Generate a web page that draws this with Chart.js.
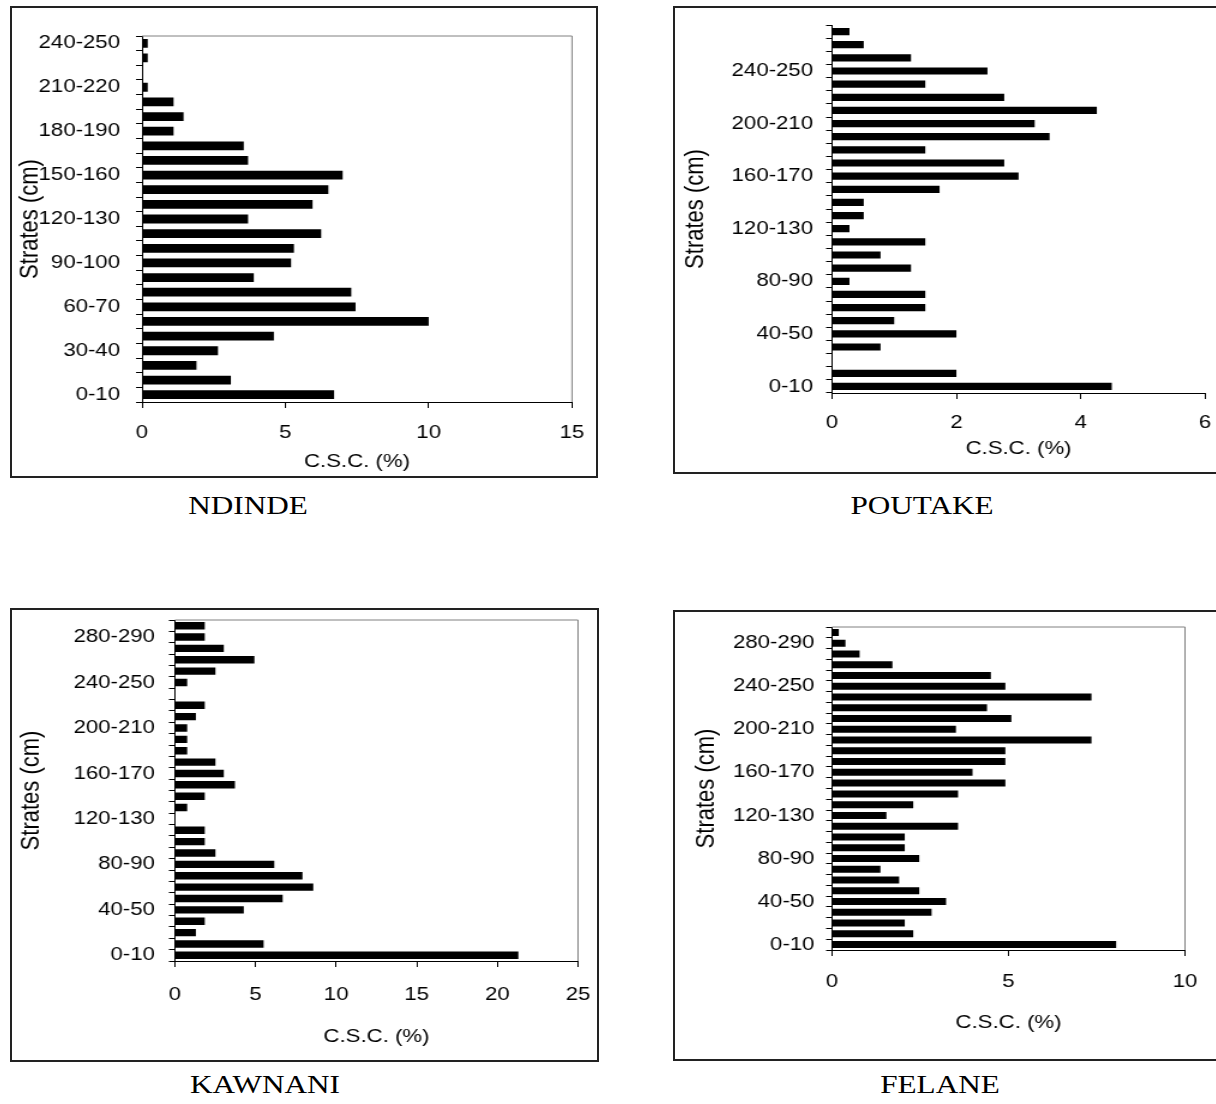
<!DOCTYPE html>
<html>
<head>
<meta charset="utf-8">
<script src="https://cdn.jsdelivr.net/npm/chart.js@4.4.0/dist/chart.umd.min.js"></script>
<style>
  body { margin: 0; background: #fff; width: 1216px; height: 1104px; position: relative; overflow: hidden; }
  .box { position: absolute; border: 2px solid #222; box-sizing: border-box; }
  canvas { position: absolute; }
  .caption { position: absolute; font-family: 'Liberation Serif', 'Times New Roman', serif; font-size: 26px; line-height: 1; white-space: nowrap; color: #000; transform: translateX(-50%) scaleX(1.2); }
</style>
</head>
<body>
<script>
// strata (cm), bottom to top
const strata = ['0-10', '10-20', '20-30', '30-40', '40-50', '50-60', '60-70', '70-80', '80-90', '90-100',
  '100-110', '110-120', '120-130', '130-140', '140-150', '150-160', '160-170', '170-180', '180-190', '190-200',
  '200-210', '210-220', '220-230', '230-240', '240-250', '250-260', '260-270', '270-280', '280-290', '290-300'];

// C.S.C. (%) per stratum
const ndindeCsc = [6.7, 3.1, 1.9, 2.65, 4.6, 10.0, 7.45, 7.3, 3.9, 5.2, 5.3, 6.25, 3.7, 5.95, 6.5, 7.0, 3.7, 3.55, 1.1, 1.45, 1.1, 0.2, 0, 0.2, 0.2];
const poutakeCsc = [4.5, 2.0, 0, 0.78, 2.0, 1.0, 1.5, 1.5, 0.28, 1.27, 0.78, 1.5, 0.28, 0.51, 0.51, 1.73, 3.0, 2.77, 1.5, 3.5, 3.26, 4.26, 2.77, 1.5, 2.5, 1.27, 0.51, 0.28];
const kawnaniCsc = [21.3, 5.5, 1.3, 1.85, 4.27, 6.68, 8.58, 7.91, 6.16, 2.51, 1.85, 1.85, 0, 0.76, 1.85, 3.72, 3.03, 2.51, 0.76, 0.76, 0.76, 1.3, 1.85, 0, 0.76, 2.51, 4.93, 3.03, 1.85, 1.85];
const felaneCsc = [8.05, 2.3, 2.06, 2.82, 3.23, 2.47, 1.9, 1.37, 2.47, 2.06, 2.06, 3.57, 1.54, 2.3, 3.57, 4.91, 3.98, 4.91, 4.91, 7.35, 3.51, 5.08, 4.39, 7.35, 4.91, 4.5, 1.71, 0.78, 0.38, 0.19];

// labelled strata on each y axis
const ndindeTicks = ['0-10', '30-40', '60-70', '90-100', '120-130', '150-160', '180-190', '210-220', '240-250'];
const poutakeTicks = ['0-10', '40-50', '80-90', '120-130', '160-170', '200-210', '240-250'];
const kawnaniTicks = ['0-10', '40-50', '80-90', '120-130', '160-170', '200-210', '240-250', '280-290'];
const felaneTicks = ['0-10', '40-50', '80-90', '120-130', '160-170', '200-210', '240-250', '280-290'];

// x axis ticks
const ndindeX = [0, 5, 10, 15];
const poutakeX = [0, 2, 4, 6];
const kawnaniX = [0, 5, 10, 15, 20, 25];
const felaneX = [0, 5, 10];

// the source picture is stretched horizontally, so draw narrow and stretch
const S = 1.2;

Chart.defaults.font.family = "'Liberation Sans', Arial, sans-serif";
Chart.defaults.font.size = 18.5;
Chart.defaults.color = '#000';

const frame = {
  id: 'frame',
  beforeDatasetsDraw(chart, args, opts) {
    if (!opts.show) return;
    const { ctx, chartArea: a } = chart;
    ctx.save();
    ctx.strokeStyle = '#808080';
    ctx.lineWidth = 1;
    ctx.beginPath();
    ctx.moveTo(a.left, a.top);
    ctx.lineTo(a.right, a.top);
    ctx.lineTo(a.right, a.bottom);
    ctx.stroke();
    ctx.restore();
  }
};

function makePanel(values, shown, xTicks, cfg) {
  const b = cfg.box, p = cfg.plot;
  const W = b.r - b.l, H = b.b - b.t;

  const box = document.createElement('div');
  box.className = 'box';
  box.style.cssText = `left:${b.l}px;top:${b.t}px;width:${W}px;height:${H}px`;
  document.body.appendChild(box);

  const cv = document.createElement('canvas');
  cv.width = Math.round(W / S);
  cv.height = H;
  cv.style.cssText = `left:${b.l}px;top:${b.t}px;width:${W}px;height:${H}px`;
  document.body.appendChild(cv);

  const cap = document.createElement('div');
  cap.className = 'caption';
  cap.textContent = cfg.name;
  cap.style.left = cfg.cap[0] + 'px';
  cap.style.top = cfg.cap[1] + 'px';
  document.body.appendChild(cap);

  new Chart(cv, {
    type: 'bar',
    data: {
      labels: strata.slice(0, values.length),
      datasets: [{
        data: values,
        backgroundColor: '#000',
        barPercentage: cfg.bar,
        categoryPercentage: 1
      }]
    },
    options: {
      indexAxis: 'y',
      responsive: false,
      animation: false,
      layout: { padding: { left: 0, top: p.t - b.t, right: (b.r - p.r) / S, bottom: 0 } },
      plugins: {
        legend: { display: false },
        tooltip: { enabled: false },
        frame: { show: cfg.frame }
      },
      scales: {
        y: {
          reverse: true,
          offset: true,
          afterFit: s => { s.width = (p.l - b.l) / S; s.paddingTop = 0; s.paddingBottom = 0; },
          grid: { offset: true, drawOnChartArea: false, tickLength: 5, color: '#000' },
          border: { color: '#000' },
          ticks: {
            autoSkip: false,
            padding: cfg.yPad,
            callback: function (v) {
              const l = this.getLabelForValue(v);
              return shown.includes(l) ? l : '';
            }
          },
          title: { display: true, text: 'Strates (cm)', font: { size: 22 }, padding: { top: cfg.yTitlePad, bottom: 0 } }
        },
        x: {
          min: xTicks[0],
          max: xTicks[xTicks.length - 1],
          afterFit: s => { s.height = b.b - p.b; s.paddingLeft = 0; s.paddingRight = 0; },
          grid: { drawOnChartArea: false, tickLength: 6, color: '#000' },
          border: { color: '#000' },
          ticks: { stepSize: xTicks[1] - xTicks[0], padding: cfg.xPad, maxRotation: 0 },
          title: { display: true, text: 'C.S.C. (%)', padding: { top: 0, bottom: cfg.xTitlePad } }
        }
      }
    },
    plugins: [frame]
  });
}

makePanel(ndindeCsc, ndindeTicks, ndindeX, {
  name: 'NDINDE', cap: [248, 493],
  box: { l: 10, t: 6, r: 598, b: 478 }, plot: { l: 142, t: 36, r: 572, b: 402 },
  yPad: 13.3, xPad: 13.9, xTitlePad: 4.9, yTitlePad: 3.5, bar: 0.6, frame: true
});
makePanel(poutakeCsc, poutakeTicks, poutakeX, {
  name: 'POUTAKE', cap: [922, 493],
  box: { l: 673, t: 6, r: 1218, b: 474 }, plot: { l: 832, t: 25, r: 1205, b: 393 },
  yPad: 10.8, xPad: 12.9, xTitlePad: 13.9, yTitlePad: 6, bar: 0.55, frame: false
});
makePanel(kawnaniCsc, kawnaniTicks, kawnaniX, {
  name: 'KAWNANI', cap: [265, 1072],
  box: { l: 10, t: 608, r: 599, b: 1062 }, plot: { l: 175, t: 620, r: 578, b: 961 },
  yPad: 11.7, xPad: 16.9, xTitlePad: 13.9, yTitlePad: 4.3, bar: 0.65, frame: true
});
makePanel(felaneCsc, felaneTicks, felaneX, {
  name: 'FELANE', cap: [940, 1072],
  box: { l: 673, t: 610, r: 1218, b: 1061 }, plot: { l: 832, t: 627, r: 1185, b: 950 },
  yPad: 9.6, xPad: 14.9, xTitlePad: 26.9, yTitlePad: 14.7, bar: 0.65, frame: true
});
</script>
</body>
</html>
